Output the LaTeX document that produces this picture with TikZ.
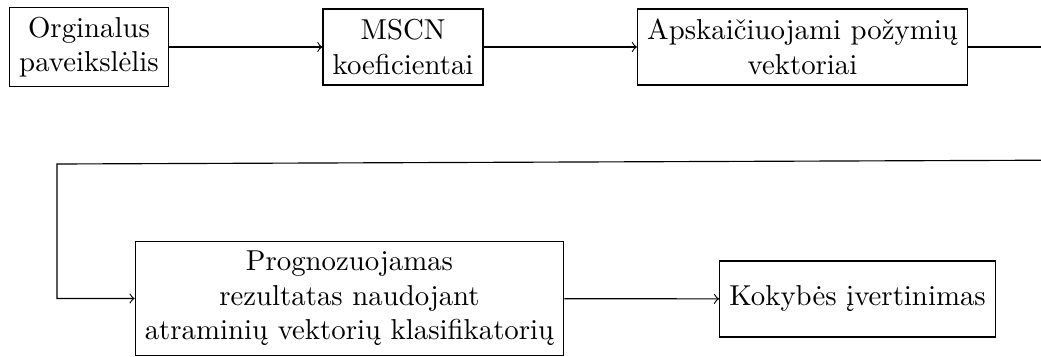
\documentclass[tikz,border=0pt]{standalone}
\usepackage{fontspec}
\begin{document}
\begin{tikzpicture}[x=0.3472pt,y=-0.3472pt,
  box/.style={draw, align=center, minimum height=26.4pt, inner sep=3.33pt},
  arr/.style={->}]
\useasboundingbox (0,0) rectangle (1041,356);
\clip (0,0) rectangle (1041,356);
\node[box] (b1) at (89,47) {Orginalus\\paveikslėlis};
\node[box] (b2) at (403,47) {MSCN\\koeficientai};
\node[box] (b3) at (802.5,47) {Apskaičiuojami požymių\\vektoriai};
\node[box] (b4) at (349.5,298.5) {Prognozuojamas\\rezultatas naudojant\\atraminių vektorių klasifikatorių};
\node[box] (b5) at (857.5,299) {Kokybės įvertinimas};
\coordinate (p1) at (1100,47);
\coordinate (p2) at (1100,160);
\coordinate (p3) at (57,164);
\draw[arr] (b1) -- (b2);
\draw[arr] (b2) -- (b3);
\draw (b3.east) -- (p1);
\draw[arr] (p2) -- (p3) |- (b4.west);
\draw[arr] (b4) -- (b5);
\end{tikzpicture}
\end{document}
